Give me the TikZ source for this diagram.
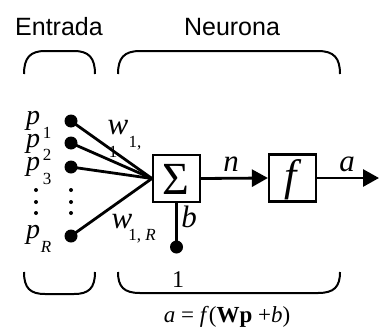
\documentclass[tikz,border=0pt]{standalone}
\usepackage{fontspec}
\setmainfont{Liberation Serif}
\newfontfamily\labelsans{Liberation Sans}
\usetikzlibrary{arrows.meta}
\tikzset{
  wire/.style={line width=2.8pt},
  brk/.style={line width=2pt},
  blk/.style={draw, line width=2.2pt, minimum width=47pt, minimum height=47pt, inner sep=0pt},
  dotn/.style={circle, fill=black, inner sep=0pt, minimum size=13pt},
  smalldot/.style={circle, fill=black, inner sep=0pt, minimum size=4pt},
  mlab/.style={inner sep=0pt, font=\fontsize{31}{31}\selectfont\itshape},
  plab/.style={inner sep=0pt, font=\fontsize{28}{28}\selectfont\itshape},
  slab/.style={inner sep=0pt, font=\fontsize{17}{17}\selectfont},
  title/.style={inner sep=0pt, font=\fontsize{25}{25}\selectfont\labelsans},
  arr/.style={wire, -{Triangle[length=16pt,width=17pt]}}
}
\begin{document}
\begin{tikzpicture}[x=1pt,y=-1pt]
\useasboundingbox (0,0) rectangle (379,329);
% titles
\node[title] (tin) at (59,27) {Entrada};
\node[title] (tne) at (232,27) {Neurona};
% top brackets
\draw[brk] (24,74) .. controls (24,58) and (30,51) .. (45,51) -- (74,51) .. controls (89,51) and (95,58) .. (95,74);
\draw[brk] (118,74) .. controls (118,58) and (124,51) .. (140,51) -- (318,51) .. controls (334,51) and (340,58) .. (340,74);
% bottom brackets
\draw[brk] (24,272) .. controls (24,288) and (30,294) .. (45,294) -- (74,294) .. controls (89,294) and (95,288) .. (95,272);
\draw[brk] (118,272) .. controls (118,287) and (124,293) .. (140,293) -- (318,293) .. controls (334,293) and (340,287) .. (340,272);
% blocks
\node[blk] (sum) at (176.5,178.5) {};
\node[inner sep=0pt, font=\fontsize{46}{46}\selectfont] (sig) at (175.5,179) {Σ};
\node[blk] (f) at (292.5,178) {};
\node[inner sep=0pt, font=\fontsize{44}{44}\selectfont\itshape] (fl) at (291,180) {f};
% input dots
\node[dotn] (p1) at (71,121) {};
\node[dotn] (p2) at (71,143) {};
\node[dotn] (p3) at (71,167) {};
\node[dotn] (pR) at (71,236) {};
\node[dotn] (one) at (176.5,247) {};
\coordinate (sumin) at (sum.west);
\coordinate (out) at (379,178);
% connections
\draw[wire] (p1.center) -- (sumin);
\draw[wire] (p2.center) -- (sumin);
\draw[wire] (p3.center) -- (sumin);
\draw[wire] (pR.center) -- (sumin);
\draw[wire] (one.center) -- (sum.south);
\draw[arr] (sum.east) -- (f.west);
\draw[arr] (f.east) -- (out);
% vertical ellipses
\foreach \yy [count=\i] in {190,202,213}{
  \node[smalldot] (ea\i) at (36,\yy) {};
  \node[smalldot] (eb\i) at (71,\yy) {};
}
% input labels
\node[plab] (lp1) at (33,121) {p};
\node[plab] (lp2) at (33,144) {p};
\node[plab] (lp3) at (33,167) {p};
\node[plab] (lpR) at (33,235) {p};
\node[slab] (s1) at (47,133) {1};
\node[slab] (s2) at (47,155) {2};
\node[slab] (s3) at (47,179) {3};
\node[slab, font=\fontsize{17}{17}\selectfont\itshape] (sR) at (46,247) {R};
% weights
\node[mlab] (w1) at (118,128) {w};
\node[slab] (w1s) at (135,143) {1,};
\node[slab] (w1t) at (113,152) {1};
\node[mlab] (w2) at (122,222) {w};
\node[slab] (w2s) at (142,236) {1, \textit{R}};
% other labels
\node[mlab] (lb) at (189,217) {b};
\node[inner sep=0pt, font=\fontsize{24}{24}\selectfont] (l1) at (178,280) {1};
\node[mlab] (ln) at (231,164) {n};
\node[mlab] (la) at (347,164) {a};
\node[inner sep=0pt, font=\fontsize{23}{23}\selectfont] (eq) at (227,317) {\textit{a} = \textit{f}(\textbf{Wp} +\textit{b})};
\end{tikzpicture}
\end{document}
